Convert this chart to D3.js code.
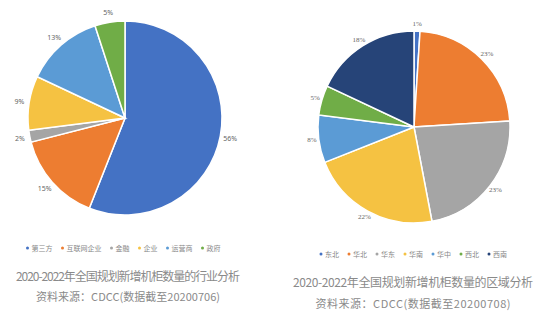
<!DOCTYPE html>
<html>
<head>
<meta charset="utf-8">
<script src="https://cdn.jsdelivr.net/npm/d3@7"></script>
<style>
  body { margin: 0; background: #fff; }
  text { font-family: "Noto Sans CJK SC", "Noto Sans", sans-serif; }
</style>
</head>
<body>
<div id="chart-area"></div>
<script>
// data
const industryNames = ["第三方", "互联网企业", "金融", "企业", "运营商", "政府"];
const industryValues = [56, 15, 2, 9, 13, 5];
const regionNames = ["东北", "华北", "华东", "华南", "华中", "西北", "西南"];
const regionValues = [1, 23, 23, 22, 8, 5, 18];
const industryTitle = "2020-2022年全国规划新增机柜数量的行业分析";
const industrySource = "资料来源：CDCC(数据截至20200706)";
const regionTitle = "2020-2022年全国规划新增机柜数量的区域分析";
const regionSource = "资料来源：CDCC(数据截至20200708)";

const palette = ["#4472c4", "#ed7d31", "#a5a5a5", "#f5c242", "#5b9bd5", "#70ad47", "#264478"];

const width = 544, height = 318;

var svg = d3.select("#chart-area")
    .append("svg")
    .attr("width", width)
    .attr("height", height);

function drawPie(opts) {
    var names = opts.names, values = opts.values;
    var data = names.map((n, i) => ({name: n, value: values[i]}));

    var color = d3.scaleOrdinal().domain(names).range(palette);

    var pie = d3.pie().sort(null).value(d => d.value);
    var arc = d3.arc().innerRadius(0).outerRadius(opts.r);
    var labelArc = d3.arc().innerRadius(opts.r + opts.labelOff).outerRadius(opts.r + opts.labelOff);

    var g = svg.append("g")
        .attr("transform", `translate(${opts.cx}, ${opts.cy})`);

    var arcs = pie(data);

    g.selectAll("path").data(arcs)
        .enter().append("path")
        .attr("d", arc)
        .attr("fill", d => color(d.data.name))
        .attr("stroke", "#fff")
        .attr("stroke-width", 1.5);

    g.selectAll("text.lbl").data(arcs)
        .enter().append("text")
        .attr("class", "lbl")
        .attr("transform", d => `translate(${labelArc.centroid(d)})`)
        .attr("text-anchor", "middle")
        .attr("dominant-baseline", "central")
        .style("font-size", "7px")
        .style("font-family", opts.labelFont)
        .attr("fill", "#666")
        .text(d => d.data.value + "%");

    // legend, laid out by measured text width then centred
    var leg = svg.append("g");
    var items = leg.selectAll("g").data(data)
        .enter().append("g");
    items.append("circle")
        .attr("r", 1.5)
        .attr("fill", d => color(d.name));
    items.append("text")
        .attr("x", 4)
        .attr("dominant-baseline", "central")
        .style("font-size", "7px")
        .attr("fill", "#888")
        .text(d => d.name);
    var x = 0;
    items.each(function () {
        d3.select(this).attr("transform", `translate(${x}, 0)`);
        x += 4 + d3.select(this).select("text").node().getComputedTextLength() + 10;
    });
    var total = x - 10;
    leg.attr("transform", `translate(${opts.legendCx - total / 2}, ${opts.legendY})`);

    svg.append("text")
        .attr("x", opts.titleX)
        .attr("y", opts.titleY)
        .attr("text-anchor", "middle")
        .attr("dominant-baseline", "central")
        .attr("textLength", opts.titleLen)
        .style("font-size", "12px")
        .attr("fill", "#8a8a8a")
        .text(opts.title);

    svg.append("text")
        .attr("x", opts.titleX)
        .attr("y", opts.sourceY)
        .attr("text-anchor", "middle")
        .attr("dominant-baseline", "central")
        .attr("textLength", opts.sourceLen)
        .style("font-size", "11px")
        .attr("fill", "#8a8a8a")
        .text(opts.source);
}

drawPie({
    names: industryNames, values: industryValues,
    cx: 125, cy: 118, r: 97, labelOff: 10, labelFont: "'Noto Sans', sans-serif",
    legendY: 248, legendCx: 124,
    title: industryTitle, source: industrySource,
    titleX: 128, titleY: 275, titleLen: 224, sourceY: 296, sourceLen: 184
});

drawPie({
    names: regionNames, values: regionValues,
    cx: 414, cy: 127, r: 96, labelOff: 7, labelFont: "'Liberation Serif', serif",
    legendY: 254, legendCx: 414,
    title: regionTitle, source: regionSource,
    titleX: 413, titleY: 281, titleLen: 240, sourceY: 303, sourceLen: 195
});
</script>
</body>
</html>
